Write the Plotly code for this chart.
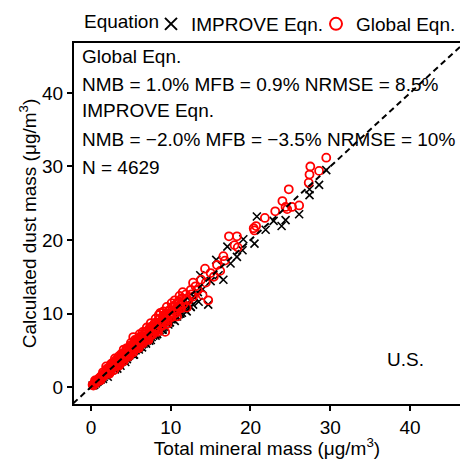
import plotly.graph_objects as go

# IMPROVE Eqn. (x: total mineral mass, y: calculated dust mass)
improve_x = [0.2,0.4,0.6,0.8,1.0,1.2,1.4,1.6,1.8,2.0,2.2,2.4,2.6,2.8,3.0,3.2,3.4,3.6,3.8,4.0,
             4.2,4.4,4.6,4.8,5.0,5.2,5.4,5.6,5.8,6.0,6.2,6.4,6.6,6.8,7.0,7.2,7.4,7.6,7.8,8.0,
             8.2,8.4,8.6,8.8,9.0,9.2,9.5,9.8,10.1,10.3,10.6,11.0,11.2,11.5,12.0,12.5,12.4,13.0,13.4,13.7,
             14.0,14.7,15.0,15.7,16.0,16.6,17.1,17.5,18.3,19.0,19.1,20.5,20.8,21.9,22.9,23.9,24.4,26.1,27.4,27.4,
             28.6,29.5,10.3,11.2,12.5,
             1.5,3.0,4.5,6.0,7.5,9.0,10.5,12.0,13.5,
             2.1,3.7,5.3,6.9,8.3,9.7,11.4,12.8,
             3.3,4.3,5.4,6.4,7.3,8.1,8.9,9.9,10.8,11.8]
improve_y = [0.2,0.3,0.5,0.7,0.9,1.0,1.3,1.4,1.6,1.8,1.9,2.2,2.3,2.5,2.7,2.8,3.1,3.2,3.4,3.6,
             3.7,4.0,4.1,4.3,4.5,4.6,4.9,5.0,5.2,5.4,5.5,5.8,5.9,6.1,6.3,6.4,6.7,6.8,7.0,7.2,
             7.3,7.6,7.7,7.9,8.1,8.2,8.6,8.8,9.2,10.5,9.6,9.9,10.0,10.6,11.0,10.9,11.8,12.2,12.9,15.2,
             13.3,11.2,14.4,17.3,15.2,14.6,19.1,16.8,17.7,18.6,20.1,19.5,23.2,21.4,22.6,21.9,22.7,23.5,26.9,26.1,
             27.5,29.5,10.5,10.0,10.9,
             1.1,2.4,3.8,5.1,6.4,7.8,9.0,10.3,11.6,
             1.4,2.9,4.4,5.9,7.2,8.5,10.1,11.2,
             2.5,3.4,4.4,5.4,6.3,7.0,7.8,8.8,9.6,10.5]

# Global Eqn.
global_x = [0.2,0.3,0.4,0.5,0.6,0.7,0.8,0.9,1.0,1.1,1.2,1.3,1.4,1.5,1.6,1.7,1.8,1.9,2.0,2.1,
            2.2,2.3,2.4,2.5,2.6,2.7,2.8,2.9,3.0,3.1,3.2,3.3,3.4,3.5,3.6,3.7,3.8,3.9,4.0,4.1,
            4.2,4.3,4.4,4.5,4.6,4.7,4.8,4.9,5.0,5.1,5.2,5.3,5.4,5.5,5.6,5.7,5.8,5.9,6.0,6.1,
            6.2,6.4,6.5,6.7,6.8,7.0,7.1,7.3,7.4,7.6,7.7,7.9,8.0,8.2,8.3,8.5,8.7,8.8,9.0,9.2,
            9.3,9.4,9.6,9.8,10.0,10.2,10.4,10.6,10.8,11.0,11.2,11.4,11.6,11.9,12.2,12.5,12.8,13.1,13.4,13.8,
            14.0,14.3,14.4,14.7,15.0,15.4,15.8,16.2,16.6,16.8,17.3,18.0,18.3,18.4,20.4,20.5,20.7,21.8,23.1,24.0,
            24.4,24.6,25.2,26.1,24.8,27.3,27.4,28.6,27.5,29.5,
            1.0,1.6,2.2,2.8,3.4,4.0,4.6,5.2,5.8,6.4,7.0,7.6,8.2,8.8,9.4,10.0,10.6,11.2,12.0,12.6,
            0.5,1.5,2.5,3.5,4.5,5.5,6.5,7.5,8.5,9.5,10.5,11.5,12.8,
            1.2,2.4,3.6,4.8,6.0,7.2,8.4,9.6,10.8,12.0,
            1.9,3.0,4.1,5.0,6.1,7.0,8.1,9.1,10.1,11.1,
            2.0,2.6,3.2,3.8,4.4,5.0,5.6,6.2,6.8,7.4,8.0,8.6,9.2,9.8,10.4,11.0,
            2.3,2.9,3.5,4.1,4.7,5.3,5.9,6.5,7.1,7.7,8.3,8.9,9.5,10.1,10.7,11.3,
            2.5,3.0,3.5,4.0,4.5,5.0,5.5,6.0,6.5,7.0,7.5,8.0,8.5,9.0,9.5,10.0]
global_y = [0.3,0.2,0.5,0.4,0.8,0.6,0.9,1.1,0.9,1.2,1.4,1.2,1.6,1.4,1.8,1.6,2.0,1.8,2.3,2.0,
            2.5,2.2,2.7,2.4,2.9,2.5,3.1,2.8,3.4,2.9,3.5,3.1,3.8,3.3,4.0,3.5,4.2,3.7,4.5,3.8,
            4.6,4.0,4.9,4.3,5.1,4.4,5.3,4.6,5.5,4.8,5.7,6.8,5.1,6.0,5.3,6.2,5.5,6.4,5.7,6.6,
            5.9,6.9,6.1,7.2,6.4,7.6,6.7,7.9,7.0,8.2,7.3,8.5,7.6,8.8,7.9,9.2,10.1,8.4,9.6,8.8,
            7.5,10.0,9.2,10.4,9.6,10.9,10.0,11.2,10.4,11.7,10.8,12.1,11.3,12.6,11.8,13.2,12.3,13.7,13.2,14.6,
            12.5,16.1,14.2,11.8,15.5,15.0,16.6,15.8,17.8,17.2,20.5,19.3,20.5,19.0,21.6,21.3,21.9,23.0,23.9,25.3,
            24.5,24.2,24.5,24.7,26.9,27.8,28.9,29.4,30.0,31.2,
            1.0,1.6,2.2,2.8,3.4,4.0,4.6,5.2,5.8,6.4,7.0,7.6,8.2,8.8,9.4,10.0,10.6,11.2,12.0,12.6,
            0.9,2.0,3.1,4.2,5.3,6.4,7.5,8.7,9.8,10.9,11.8,12.9,14.2,
            0.9,2.0,3.1,4.2,5.3,6.4,7.5,8.6,9.6,10.8,
            2.8,3.9,5.1,6.0,7.2,8.1,9.3,10.3,11.4,12.4,
            2.5,3.2,3.8,4.5,5.1,5.7,6.3,6.9,7.5,8.1,8.7,9.3,9.8,10.4,11.0,11.5,
            1.8,2.3,2.9,3.5,4.1,4.7,5.3,5.9,6.5,7.1,7.7,8.3,8.9,9.5,10.1,10.7,
            2.6,2.9,3.6,3.9,4.6,4.9,5.6,5.9,6.6,6.9,7.6,7.9,8.6,8.9,9.6,9.9]

ref_line = [-5, 50]
tick_vals = [0, 10, 20, 30, 40]

font_family = "Liberation Sans, Arial, sans-serif"
FS = 19

fig = go.Figure()
fig.add_trace(go.Scatter(
    x=improve_x, y=improve_y, mode="markers", name="IMPROVE Eqn.",
    marker=dict(symbol="x-thin-open", size=8, color="black", line=dict(color="black", width=1.6))))
fig.add_trace(go.Scatter(
    x=global_x, y=global_y, mode="markers", name="Global Eqn.",
    marker=dict(symbol="circle-open", size=8, color="red", line=dict(color="red", width=1.8))))
fig.add_trace(go.Scatter(
    x=ref_line, y=ref_line, mode="lines", showlegend=False, hoverinfo="skip",
    line=dict(color="black", width=2, dash="6px,4px")))

ann_lines = [
    ("Global Eqn.", 56),
    ("NMB = 1.0% MFB = 0.9% NRMSE = 8.5%", 84),
    ("IMPROVE Eqn.", 111),
    ("NMB = \u22122.0% MFB = \u22123.5% NRMSE = 10%", 139),
    ("N = 4629", 167),
]
annotations = []
for txt, py in ann_lines:
    annotations.append(dict(
        text=txt, xref="paper", yref="paper", x=(80 - 74) / 386, y=(404 - py) / 361,
        xanchor="left", yanchor="middle", showarrow=False,
        font=dict(size=FS, color="black", family=font_family)))
annotations.append(dict(
    text="U.S.", xref="x", yref="y", x=39.4, y=3.7, xanchor="center", yanchor="middle",
    showarrow=False, font=dict(size=FS, color="black", family=font_family)))
# legend heading
annotations.append(dict(
    text="Equation", xref="paper", yref="paper", x=(82 - 74) / 386, y=(404 - 22) / 361,
    xanchor="left", yanchor="middle", showarrow=False,
    font=dict(size=FS, color="black", family=font_family)))

fig.update_layout(
    width=460, height=459,
    margin=dict(l=74, r=0, t=43, b=55, autoexpand=False),
    paper_bgcolor="white", plot_bgcolor="white",
    font=dict(family=font_family, size=FS, color="black"),
    showlegend=True,
    legend=dict(orientation="h", x=(151 - 74) / 386, y=1.0, xanchor="left", yanchor="bottom",
                font=dict(size=FS), itemsizing="constant",
                entrywidth=120, entrywidthmode="pixels",
                itemwidth=30, tracegroupgap=0, bgcolor="rgba(0,0,0,0)"),
    annotations=annotations,
    xaxis=dict(range=[-2.13, 46.27], tickvals=tick_vals, showgrid=False, zeroline=False,
               showline=True, linecolor="black", linewidth=2, mirror=True,
               ticks="outside", ticklen=5, tickwidth=1.5, tickcolor="black",
               tickfont=dict(size=FS), automargin=False,
               title=dict(text="Total mineral mass (\u03bcg/m<sup>3</sup>)", font=dict(size=FS), standoff=4)),
    yaxis=dict(range=[-2.31, 46.8], tickvals=tick_vals, showgrid=False, zeroline=False,
               showline=True, linecolor="black", linewidth=2, mirror=False,
               ticks="outside", ticklen=5, tickwidth=1.5, tickcolor="black",
               tickfont=dict(size=FS), automargin=False,
               title=dict(text="Calculated dust mass (\u03bcg/m<sup>3</sup>)", font=dict(size=FS), standoff=0)),
)

fig.write_html("out.html", config={"displayModeBar": False},
               post_script="document.body.style.margin='0';document.body.style.overflow='hidden';")
